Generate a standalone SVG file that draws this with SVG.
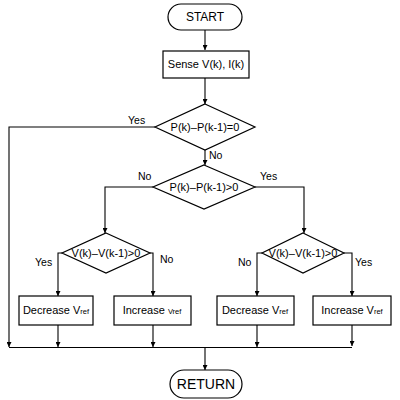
<svg xmlns="http://www.w3.org/2000/svg" width="400" height="400" viewBox="0 0 400 400">
<style>
.s{fill:#fff;stroke:#000;stroke-width:1.2}
.c{fill:none;stroke:#000;stroke-width:1.1}
text{font-family:"Liberation Sans",Arial,sans-serif;fill:#000}
.t{font-size:11px;text-anchor:middle}
.l{font-size:10.5px}
.sub{font-size:7.5px}
</style>
<defs>
<marker id="a" viewBox="0 0 8 8" refX="8" refY="4" markerWidth="5" markerHeight="5" orient="auto" markerUnits="userSpaceOnUse">
<path d="M0,0 L8,4 L0,8 z" fill="#000"/>
</marker>
</defs>
<g id="connectors">
<path class="c" d="M205,30 V50" marker-end="url(#a)"/>
<path class="c" d="M205,78 V104" marker-end="url(#a)"/>
<path class="c" d="M205,150 V165" marker-end="url(#a)"/>
<path class="c" d="M155,127 H9 V347" marker-end="url(#a)"/>
<path class="c" d="M153,187 H105 V233" marker-end="url(#a)"/>
<path class="c" d="M255,187 H304 V233" marker-end="url(#a)"/>
<path class="c" d="M62,253 H58 V296" marker-end="url(#a)"/>
<path class="c" d="M150,253 H153 V296" marker-end="url(#a)"/>
<path class="c" d="M262,253 H257 V296" marker-end="url(#a)"/>
<path class="c" d="M344,253 H352 V296" marker-end="url(#a)"/>
<path class="c" d="M58,325 V347" marker-end="url(#a)"/>
<path class="c" d="M153,325 V347" marker-end="url(#a)"/>
<path class="c" d="M257,325 V347" marker-end="url(#a)"/>
<path class="c" d="M352,325 V346" marker-end="url(#a)"/>
<path class="c" d="M9,347.5 H352"/>
<path class="c" d="M205,347 V370" marker-end="url(#a)"/>
<text class="l" x="128" y="124">Yes</text>
<text class="l" x="209" y="159">No</text>
<text class="l" x="138" y="180">No</text>
<text class="l" x="260" y="180">Yes</text>
<text class="l" x="35" y="266">Yes</text>
<text class="l" x="160" y="263">No</text>
<text class="l" x="238" y="266">No</text>
<text class="l" x="355" y="266">Yes</text>
</g>
<g id="start">
<rect class="s" x="168" y="4" width="74" height="26" rx="13"/>
<text class="t" x="205" y="21" style="font-size:12px">START</text>
</g>
<g id="sense">
<rect class="s" x="163" y="51" width="86" height="27"/>
<text class="t" x="206" y="68">Sense V(k), I(k)</text>
</g>
<g id="dec1">
<polygon class="s" points="205,104 255,127 205,150 155,127"/>
<text class="t" x="205" y="131">P(k)–P(k-1)=0</text>
</g>
<g id="dec2">
<polygon class="s" points="204,165 255,187 204,209 153,187"/>
<text class="t" x="204" y="191">P(k)–P(k-1)&gt;0</text>
</g>
<g id="dec3">
<polygon class="s" points="106,233 150,253 106,273 62,253"/>
<text class="t" x="106" y="257">V(k)–V(k-1)&gt;0</text>
</g>
<g id="dec4">
<polygon class="s" points="303,233 344,253 303,273 262,253"/>
<text class="t" x="303" y="257">V(k)–V(k-1)&gt;0</text>
</g>
<g id="box1">
<rect class="s" x="19" y="296" width="74" height="29"/>
<text class="t" x="56" y="314">Decrease V<tspan class="sub">ref</tspan></text>
</g>
<g id="box2">
<rect class="s" x="114" y="296" width="77" height="29"/>
<text class="t" x="152" y="314">Increase <tspan class="sub">Vref</tspan></text>
</g>
<g id="box3">
<rect class="s" x="217" y="296" width="77" height="29"/>
<text class="t" x="255" y="314">Decrease V<tspan class="sub">ref</tspan></text>
</g>
<g id="box4">
<rect class="s" x="313" y="296" width="78" height="29"/>
<text class="t" x="352" y="314">Increase V<tspan class="sub">ref</tspan></text>
</g>
<g id="return">
<rect class="s" x="170" y="370" width="72" height="28" rx="14"/>
<text class="t" x="206" y="389" style="font-size:14px">RETURN</text>
</g>
</svg>
